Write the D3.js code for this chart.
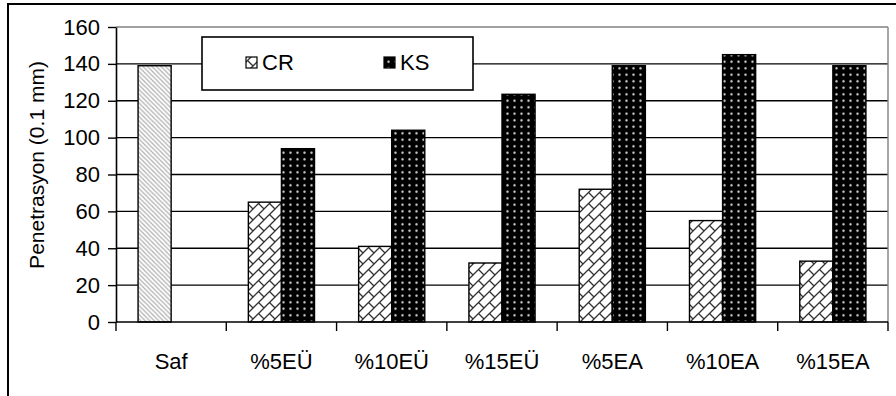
<!DOCTYPE html>
<html>
<head>
<meta charset="utf-8">
<script src="https://cdn.jsdelivr.net/npm/d3@7"></script>
<style>
  body { margin: 0; background: #fff; }
  svg text { font-family: "Liberation Sans", Arial, sans-serif; fill: #000; }
</style>
</head>
<body>
<svg id="chart" width="896" height="396"></svg>
<script>
// Penetration values (0.1 mm) per mixture
const categories = ["Saf", "%5EÜ", "%10EÜ", "%15EÜ", "%5EA", "%10EA", "%15EA"];
const seriesNames = ["CR", "KS"];
const crValues = [139, 65, 41, 32, 72, 55, 33];
const ksValues = [null, 94, 104, 123.5, 139, 145, 139];
const yTicks = [0, 20, 40, 60, 80, 100, 120, 140, 160];
const yTitle = "Penetrasyon (0.1 mm)";
const plainCategory = "Saf"; // drawn with its own hatch

const svg = d3.select("#chart");
const fontSize = 22;
const titleSize = 21;

const plot = { left: 116, right: 888, top: 27, bottom: 322 };

// ---- fill patterns ----
const defs = svg.append("defs");

// light grey "\" stripes for the plain binder
const pSaf = defs.append("pattern").attr("id", "hatchSaf")
  .attr("patternUnits", "userSpaceOnUse").attr("width", 4.5).attr("height", 4.5);
pSaf.append("rect").attr("width", 4.5).attr("height", 4.5).attr("fill", "#fff");
pSaf.append("path").attr("d", "M0,0L4.5,4.5M-1,3.5L1,5.5M3.5,-1L5.5,1")
  .attr("stroke", "#b0b0b0").attr("stroke-width", 1.2);

// diagonal brick for CR
const pCR = defs.append("pattern").attr("id", "hatchCR")
  .attr("patternUnits", "userSpaceOnUse").attr("width", 11).attr("height", 11);
pCR.append("rect").attr("width", 11).attr("height", 11).attr("fill", "#fff");
pCR.append("path").attr("d", "M0,11L11,0M-1,1L1,-1M10,12L12,10M5.5,5.5L11,11")
  .attr("stroke", "#333").attr("stroke-width", 1.3);

// white dots on black for KS
const pKS = defs.append("pattern").attr("id", "dotsKS")
  .attr("patternUnits", "userSpaceOnUse").attr("width", 7).attr("height", 6.5);
pKS.append("rect").attr("width", 7).attr("height", 6.5).attr("fill", "#000");
pKS.append("circle").attr("cx", 3.5).attr("cy", 3.25).attr("r", 1.2).attr("fill", "#d8d8d8");

const seriesFill = { CR: "url(#hatchCR)", KS: "url(#dotsKS)" };

// ---- scales ----
const x = d3.scaleBand().domain(categories).range([plot.left, plot.right]);
const xs = d3.scaleBand().domain(seriesNames).range([0, x.bandwidth()])
  .paddingInner(0).paddingOuter(0.667);
const y = d3.scaleLinear().domain([0, 160]).range([plot.bottom, plot.top]);

// outer frame
svg.append("rect").attr("x", 8).attr("y", 4).attr("width", 1000).attr("height", 500)
  .attr("fill", "none").attr("stroke", "#000").attr("stroke-width", 2);

// gridlines
svg.append("g").selectAll("line").data(yTicks.filter(t => t > 0)).join("line")
  .attr("x1", plot.left).attr("x2", plot.right)
  .attr("y1", d => y(d)).attr("y2", d => y(d))
  .attr("stroke", d => d === 160 ? "#808080" : "#000")
  .attr("stroke-width", 1.4);
// right edge of plot area
svg.append("line").attr("x1", plot.right).attr("x2", plot.right)
  .attr("y1", plot.top).attr("y2", plot.bottom)
  .attr("stroke", "#808080").attr("stroke-width", 1.4);

// ---- bars ----
const rows = [];
categories.forEach((c, i) => {
  rows.push({ cat: c, s: "CR", v: crValues[i] });
  rows.push({ cat: c, s: "KS", v: ksValues[i] });
});
svg.append("g").selectAll("rect").data(rows.filter(d => d.v != null)).join("rect")
  .attr("x", d => x(d.cat) + xs(d.s))
  .attr("width", xs.bandwidth())
  .attr("y", d => y(d.v))
  .attr("height", d => y(0) - y(d.v))
  .attr("fill", d => (d.cat === plainCategory && d.s === "CR") ? "url(#hatchSaf)" : seriesFill[d.s])
  .attr("stroke", "#000").attr("stroke-width", 1.4);

// ---- y axis ----
const yAxis = svg.append("g").attr("transform", `translate(${plot.left},0)`)
  .call(d3.axisLeft(y).tickValues(yTicks).tickSize(8).tickSizeOuter(0).tickPadding(8));
yAxis.select(".domain").attr("stroke", "#000").attr("stroke-width", 1.6);
yAxis.selectAll(".tick line").attr("stroke", "#000").attr("stroke-width", 1.4);
yAxis.selectAll(".tick text").attr("font-size", fontSize)
  .style("font-family", '"Liberation Sans", Arial, sans-serif');

// ---- x axis ----
const xAxis = svg.append("g").attr("transform", `translate(0,${plot.bottom})`)
  .call(d3.axisBottom(x).tickSize(0).tickSizeOuter(0).tickPadding(31));
xAxis.select(".domain").remove();
xAxis.selectAll(".tick text").attr("font-size", fontSize)
  .style("font-family", '"Liberation Sans", Arial, sans-serif');
svg.append("line").attr("x1", plot.left).attr("x2", plot.right)
  .attr("y1", plot.bottom).attr("y2", plot.bottom)
  .attr("stroke", "#000").attr("stroke-width", 1.6);
const bounds = categories.map(c => x(c)).concat([plot.right]);
svg.append("g").selectAll("line").data(bounds).join("line")
  .attr("x1", d => d).attr("x2", d => d)
  .attr("y1", plot.bottom).attr("y2", plot.bottom + 9)
  .attr("stroke", "#000").attr("stroke-width", 1.4);

// y title
svg.append("text")
  .attr("transform", `translate(36,165) rotate(-90)`)
  .attr("text-anchor", "middle").attr("dominant-baseline", "central")
  .attr("font-size", titleSize).text(yTitle);

// ---- legend ----
const lg = svg.append("g");
lg.append("rect").attr("x", 202).attr("y", 37).attr("width", 271).attr("height", 53)
  .attr("fill", "#fff").attr("stroke", "#000").attr("stroke-width", 1.6);
const legendX = { CR: 246, KS: 384 };
seriesNames.forEach(s => {
  lg.append("rect").attr("x", legendX[s]).attr("y", 57).attr("width", 11).attr("height", 11)
    .attr("fill", seriesFill[s]).attr("stroke", "#000").attr("stroke-width", 1.2);
  lg.append("text").attr("x", legendX[s] + 16).attr("y", 62)
    .attr("dominant-baseline", "central").attr("font-size", fontSize).text(s);
});
</script>
</body>
</html>
